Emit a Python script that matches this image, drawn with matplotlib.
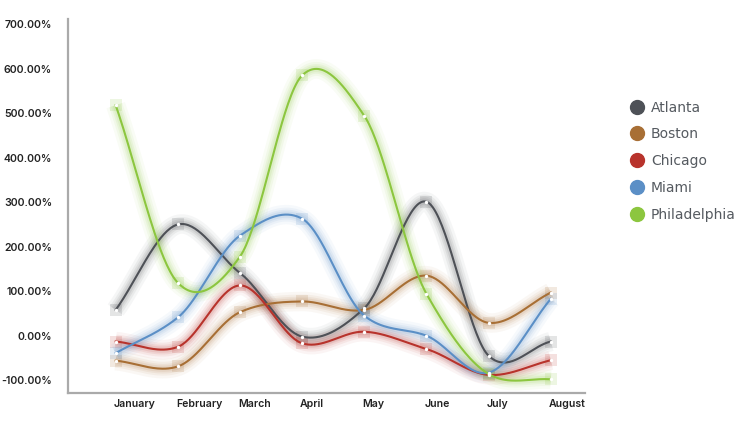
import numpy as np
import matplotlib
matplotlib.use("Agg")
import matplotlib.pyplot as plt
from matplotlib.lines import Line2D
import matplotlib.transforms as mtrans

months = ["January", "February", "March", "April", "May", "June", "July", "August"]
atlanta = [58, 250, 141, -2, 62, 301, -45, -13]
boston = [-56, -69, 53, 77, 58, 135, 29, 97]
chicago = [-13, -25, 113, -17, 9, -30, -88, -55]
miami = [-39, 41, 225, 263, 45, 0, -83, 83]
philadelphia = [518, 119, 178, 585, 494, 94, -86, -98]

series_names = ["Atlanta", "Boston", "Chicago", "Miami", "Philadelphia"]
series_values = [atlanta, boston, chicago, miami, philadelphia]
colors = ["#4e5157", "#a86f35", "#b8332c", "#5b8fc6", "#8cc63f"]
yticks = [-100, 0, 100, 200, 300, 400, 500, 600, 700]


def catmull_rom(x, y, n=40, k=0.85):
    x = np.asarray(x, float)
    y = np.asarray(y, float)
    m = np.zeros_like(y)
    m[1:-1] = k * (y[2:] - y[:-2]) / (x[2:] - x[:-2])
    m[0] = (y[1] - y[0]) / (x[1] - x[0])
    m[-1] = (y[-1] - y[-2]) / (x[-1] - x[-2])
    xs, ys = [], []
    for i in range(len(x) - 1):
        h = x[i + 1] - x[i]
        t = np.linspace(0, 1, n, endpoint=(i == len(x) - 2))
        h00 = 2 * t**3 - 3 * t**2 + 1
        h10 = t**3 - 2 * t**2 + t
        h01 = -2 * t**3 + 3 * t**2
        h11 = t**3 - t**2
        xs.append(x[i] + t * h)
        ys.append(h00 * y[i] + h10 * h * m[i] + h01 * y[i + 1] + h11 * h * m[i + 1])
    return np.concatenate(xs), np.concatenate(ys)


fig = plt.figure(figsize=(7.48, 4.22), dpi=100)
W, H = 748, 422
ax = fig.add_axes([68 / W, (H - 392.7) / H, (585 - 68) / W, (392.7 - 19) / H])

xi = np.arange(len(months))
for name, vals, c in zip(series_names, series_values, colors):
    xs, ys = catmull_rom(xi, vals)
    for lw, a in [(14, 0.05), (10, 0.07), (7, 0.09), (4.5, 0.11)]:
        ax.plot(xs, ys, color=c, lw=lw, alpha=a, solid_capstyle="butt", zorder=2)
    ax.scatter(xi, vals, s=80, marker="s", color=c, alpha=0.15, lw=0, zorder=2)
    ax.plot(xs, ys, color=c, lw=1.5, zorder=3)
    ax.scatter(xi, vals, s=6, color="white", lw=0, zorder=4)

ax.set_xlim(-0.767, 7.55)
ax.set_ylim(-128, 711.7)
ax.set_yticks(yticks)
ax.set_yticklabels([f"{v:.2f}%" for v in yticks])
ax.set_xticks(xi)
ax.set_xticklabels(months, ha="left")
ax.tick_params(axis="both", length=0, labelsize=7.6, labelcolor="#222222")
ax.tick_params(axis="y", pad=11.5)
ax.tick_params(axis="x", pad=4.5)
for t in ax.get_xticklabels() + ax.get_yticklabels():
    t.set_fontfamily("Inter")
    t.set_fontweight("semibold")
offset = mtrans.ScaledTranslation(-2 / 100, 0, fig.dpi_scale_trans)
for lab in ax.get_xticklabels():
    lab.set_transform(lab.get_transform() + offset)

for s in ["top", "right"]:
    ax.spines[s].set_visible(False)
for s in ["left", "bottom"]:
    ax.spines[s].set_color("#aaaaaa")
    ax.spines[s].set_linewidth(1.6)

handles = [Line2D([], [], marker="o", ls="none", markersize=10, color=c) for c in colors]
leg = fig.legend(handles, series_names, loc="upper left",
                 bbox_to_anchor=(630 / W, 1 - 100.5 / H), frameon=False,
                 fontsize=10, labelspacing=0.92, handletextpad=0.5,
                 handlelength=1.0, borderaxespad=0, borderpad=0)
for t in leg.get_texts():
    t.set_color("#555a60")

fig.savefig("out.png", dpi=100)
